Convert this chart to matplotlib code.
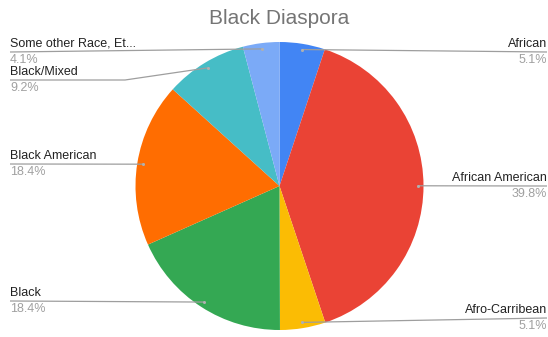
import numpy as np
import matplotlib
matplotlib.use("Agg")
import matplotlib.pyplot as plt

# data
labels = ["African", "African American", "Afro-Carribean", "Black",
          "Black American", "Black/Mixed", "Some other Race, Et..."]
shares = [5.1, 39.8, 5.1, 18.4, 18.4, 9.2, 4.1]
pct_text = ["5.1%", "39.8%", "5.1%", "18.4%", "18.4%", "9.2%", "4.1%"]
colors = ["#4285F4", "#EA4335", "#FBBC04", "#34A853", "#FF6D01", "#46BDC6", "#7BAAF7"]

W, H = 548, 337
plt.rcParams['font.family'] = ['Liberation Sans', 'DejaVu Sans']

fig = plt.figure(figsize=(W / 100, H / 100), dpi=100)
ax = fig.add_axes([0, 0, 1, 1])
ax.set_xlim(0, W)
ax.set_ylim(0, H)
ax.axis("off")

cx, cy, r = 279.5, H - 186, 144
wedges, _ = ax.pie(shares, colors=colors, startangle=90, counterclock=False,
                   center=(cx, cy), radius=r, frame=True,
                   wedgeprops=dict(linewidth=0))
ax.set_xlim(0, W)
ax.set_ylim(0, H)
ax.set_aspect("auto")
ax.axis("off")

# label placement (image px): side, line y, optional knee x
place = {
    "African": ("R", 52, None),
    "African American": ("R", 186, None),
    "Afro-Carribean": ("R", 318, None),
    "Black": ("L", 301, None),
    "Black American": ("L", 164, None),
    "Black/Mixed": ("L", 80, 125),
    "Some other Race, Et...": ("L", 52, None),
}
line_c = "#9e9e9e"
for w, lab, pct in zip(wedges, labels, pct_text):
    ang = np.deg2rad((w.theta1 + w.theta2) / 2)
    dx, dy = cx + 0.96 * r * np.cos(ang), cy + 0.96 * r * np.sin(ang)
    side, ly, knee = place[lab]
    ly = H - ly
    xend = W - 1 if side == "R" else 10
    if knee is not None:
        xs, ys = [dx, knee, xend], [dy, ly, ly]
    else:
        xs, ys = [dx, xend], [dy, ly]
    ax.plot(xs, ys, color=line_c, lw=0.9, solid_capstyle="butt")
    ax.plot(dx, dy, "o", ms=2.2, color="#b0b0b0", mec="none")
    ha = "right" if side == "R" else "left"
    ax.text(xend, ly + 2, lab, ha=ha, va="bottom", fontsize=9, color="#222222")
    ax.text(xend, ly - 2, pct, ha=ha, va="top", fontsize=9, color="#a0a0a0")

ax.text(cx, H - 18, "Black Diaspora", ha="center", va="center",
        fontsize=15, color="#757575")

fig.savefig("out.png", dpi=100)
